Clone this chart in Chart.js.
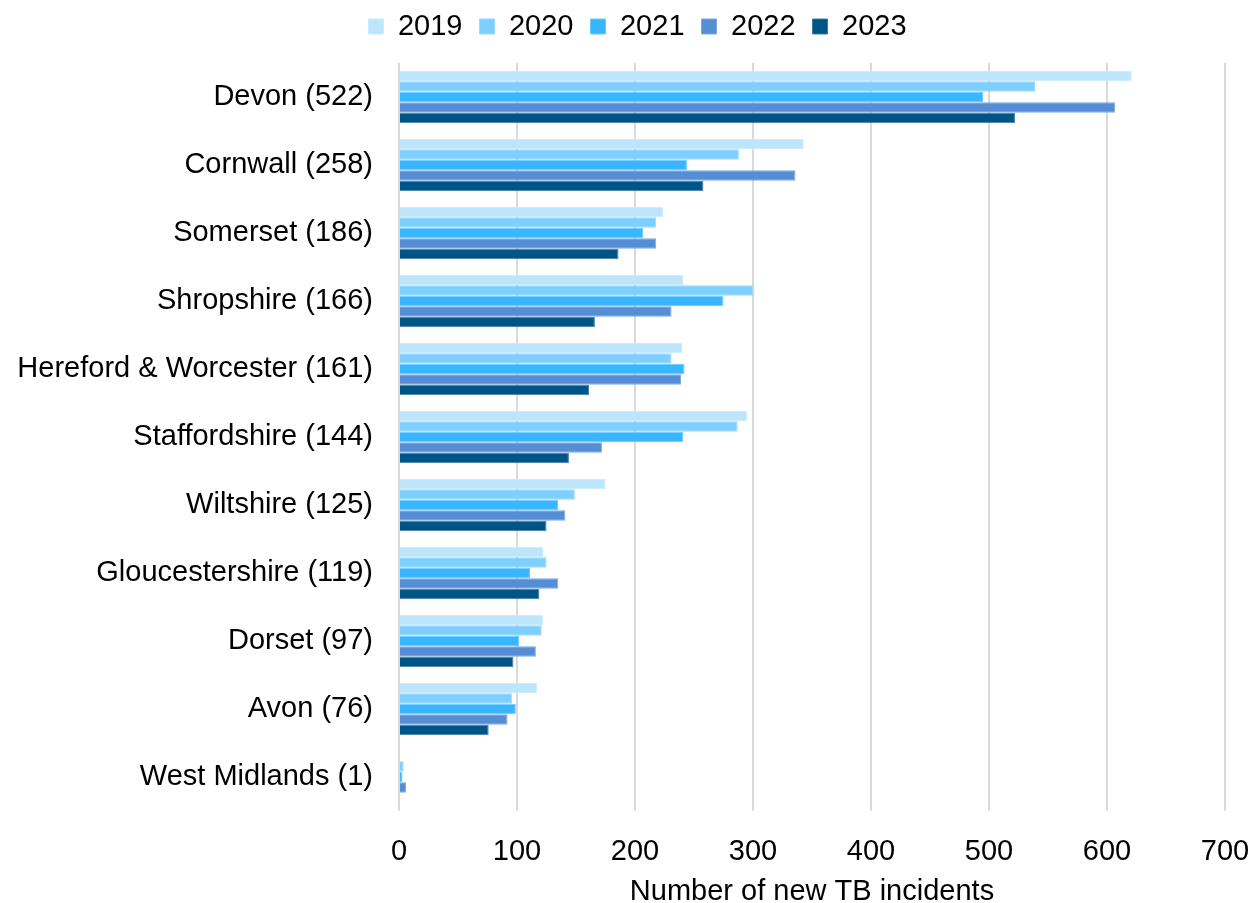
<!DOCTYPE html>
<html>
<head>
<meta charset="utf-8">
<script src="https://cdn.jsdelivr.net/npm/chart.js@4/dist/chart.umd.min.js"></script>
<style>
  html, body { margin: 0; padding: 0; background: #fff; overflow: hidden; }
  #wrap { width: 1260px; height: 903px; position: relative; }
</style>
</head>
<body>
<div id="wrap"><canvas id="c"></canvas></div>
<script>
// Counties with their 2023 count in brackets
const counties = [
  'Devon (522)', 'Cornwall (258)', 'Somerset (186)', 'Shropshire (166)',
  'Hereford & Worcester (161)', 'Staffordshire (144)', 'Wiltshire (125)',
  'Gloucestershire (119)', 'Dorset (97)', 'Avon (76)', 'West Midlands (1)'
];
const years = ['2019', '2020', '2021', '2022', '2023'];

// New TB incidents per county, one array per year
const v2019 = [621, 343, 224, 241, 240, 295, 175, 122, 122, 117, 1];
const v2020 = [539, 288, 218, 300, 231, 287, 149, 125, 121, 96, 4];
const v2021 = [495, 244, 207, 275, 242, 241, 135, 111, 102, 99, 3];
const v2022 = [607, 336, 218, 231, 239, 172, 141, 135, 116, 92, 6];
const v2023 = [522, 258, 186, 166, 161, 144, 125, 119, 97, 76, 1];

const xTicks = [0, 100, 200, 300, 400, 500, 600, 700];

const seriesValues = [v2019, v2020, v2021, v2022, v2023];
const colours = ['#BDE6FD', '#7DCFFE', '#38B7FE', '#558ED5', '#005587'];
const edges   = ['#CBEBFD', '#97D8FE', '#6AC9FE', '#7FA9DF', '#3F7CA2'];

const font = { family: 'Liberation Sans, Arial, sans-serif', size: 29 };

// Legend row: extra room below it, and centred over the plot rather than the canvas
const legendPlacement = {
  id: 'legendPlacement',
  beforeInit(chart) {
    const legend = chart.legend;
    if (!legend) return;
    const fit = legend.fit;
    legend.fit = function () {
      fit.call(this);
      this.height += 12;
    };
    const draw = legend.draw;
    legend.draw = function () {
      const ctx = this.ctx;
      ctx.save();
      ctx.translate(25, 0);
      draw.call(this);
      ctx.restore();
    };
  }
};

new Chart(document.getElementById('c'), {
  type: 'bar',
  data: {
    labels: counties,
    datasets: years.map((y, i) => ({
      label: y,
      data: seriesValues[i],
      backgroundColor: colours[i],
      borderColor: edges[i],
      borderWidth: 1,
      categoryPercentage: 0.77,
      barPercentage: 1.0
    }))
  },
  plugins: [legendPlacement],
  options: {
    indexAxis: 'y',
    responsive: true,
    maintainAspectRatio: false,
    animation: false,
    layout: { padding: { left: 0, right: 35, top: -5, bottom: 0 } },
    plugins: {
      legend: {
        position: 'top',
        labels: {
          font: font,
          color: '#000',
          boxWidth: 15,
          boxHeight: 15,
          padding: 17
        }
      },
      tooltip: { enabled: false }
    },
    scales: {
      x: {
        min: 0,
        max: 700,
        afterBuildTicks: s => { s.ticks = xTicks.map(v => ({ value: v })); },
        afterFit: s => { s.height = 92; },
        grid: { color: '#D9D9D9', lineWidth: 2, tickLength: 24, drawTicks: true, tickColor: 'rgba(0,0,0,0)' },
        border: { display: false },
        ticks: { font: font, color: '#000', padding: 0, maxRotation: 0 },
        title: {
          display: true,
          text: 'Number of new TB incidents',
          font: Object.assign({}, font, { lineHeight: 1.0 }),
          color: '#000',
          padding: { top: 4, bottom: -3 }
        }
      },
      y: {
        afterFit: s => { s.width = 399; },
        grid: { display: false },
        border: { display: false },
        ticks: { font: font, color: '#000', padding: 18 }
      }
    }
  }
});
</script>
</body>
</html>
